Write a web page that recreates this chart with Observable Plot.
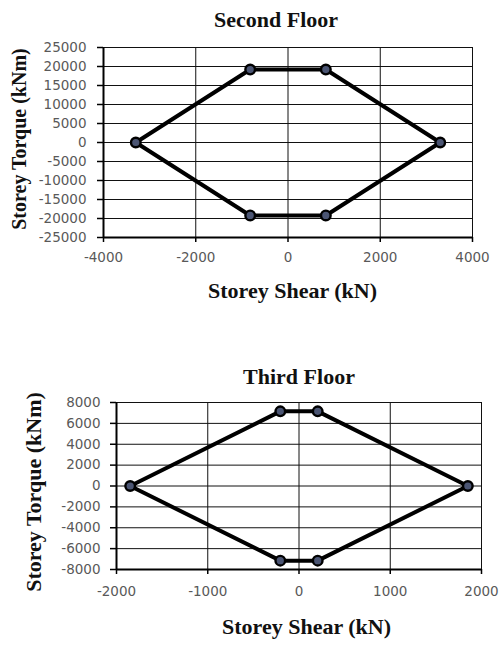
<!DOCTYPE html>
<html>
<head>
<meta charset="utf-8">
<script src="https://cdn.jsdelivr.net/npm/d3@7"></script>
<script src="https://cdn.jsdelivr.net/npm/@observablehq/plot@0.6"></script>
<style>
  html, body { margin: 0; padding: 0; background: #fff; }
  #wrap { position: relative; width: 501px; height: 646px; overflow: hidden; background:#fff; }
  #wrap svg { position: absolute; left: 0; }
  .lbl { position: absolute; font-family: "Liberation Serif", "Times New Roman", serif; font-weight: bold; line-height: 1; white-space: nowrap; color: #111; }
  g[aria-label$="tick label"] { fill: #595959; font-family: "DejaVu Sans", sans-serif; font-size: 13.5px; }
</style>
</head>
<body>
<div id="wrap"></div>
<script>
// ---- data ----
const secondShear  = [-3300, -820, 820, 3300, 820, -820];
const secondTorque = [0, 19200, 19200, 0, -19200, -19200];
const thirdShear   = [-1850, -205, 205, 1850, 205, -205];
const thirdTorque  = [0, 7150, 7150, 0, -7150, -7150];

const secondXTicks = [-4000, -2000, 0, 2000, 4000];
const secondYTicks = [-25000, -20000, -15000, -10000, -5000, 0, 5000, 10000, 15000, 20000, 25000];
const thirdXTicks  = [-2000, -1000, 0, 1000, 2000];
const thirdYTicks  = [-8000, -6000, -4000, -2000, 0, 2000, 4000, 6000, 8000];

const titles = ["Second Floor", "Third Floor"];
const xLabel = "Storey Shear (kN)";
const yLabel = "Storey Torque (kNm)";

const wrap = document.getElementById("wrap");

function makeChart(xs, ys, xTicks, yTicks, opts) {
  const pts = xs.map((x, i) => ({x, y: ys[i]}));
  const closed = pts.concat([pts[0]]);
  const xDom = [xTicks[0], xTicks[xTicks.length - 1]];
  const yDom = [yTicks[0], yTicks[yTicks.length - 1]];
  const fmt = d => String(d);
  const svg = Plot.plot({
    width: 501,
    height: opts.height,
    marginLeft: opts.ml, marginRight: opts.mr, marginTop: opts.mt, marginBottom: opts.mb,
    x: {domain: xDom, ticks: xTicks},
    y: {domain: yDom, ticks: yTicks},
    style: {background: "white", overflow: "visible"},
    marks: [
      Plot.gridX(xTicks, {stroke: "#111", strokeOpacity: 1, strokeWidth: 1}),
      Plot.gridY(yTicks, {stroke: "#111", strokeOpacity: 1, strokeWidth: 1}),
      Plot.ruleX([xDom[0]], {stroke: "black", strokeWidth: 2}),
      Plot.ruleY([yDom[0]], {stroke: "black", strokeWidth: 2}),
      Plot.axisX(xTicks, {tickSize: 5, tickPadding: opts.xpad, tickFormat: fmt, stroke: "black", strokeWidth: 1.5, fill: "#595959", label: null}),
      Plot.axisY(yTicks, {tickSize: 6, tickPadding: opts.ypad, tickFormat: fmt, stroke: "black", strokeWidth: 1.5, fill: "#595959", label: null}),
      Plot.line(closed, {x: "x", y: "y", stroke: "black", strokeWidth: 4, strokeLinejoin: "round"}),
      Plot.dot(pts, {x: "x", y: "y", r: 4.8, fill: "#4b5573", stroke: "black", strokeWidth: 2.4})
    ]
  });
  svg.style.top = opts.top + "px";
  wrap.appendChild(svg);
}

makeChart(secondShear, secondTorque, secondXTicks, secondYTicks,
  {top: 0, height: 310, ml: 103, mr: 29, mt: 47, mb: 73, xpad: 10, ypad: 11});
makeChart(thirdShear, thirdTorque, thirdXTicks, thirdYTicks,
  {top: 350, height: 296, ml: 116, mr: 20, mt: 52, mb: 77, xpad: 12, ypad: 10});

function label(text, cx, cy, size, rotate) {
  const d = document.createElement("div");
  d.className = "lbl";
  d.textContent = text;
  d.style.fontSize = size + "px";
  d.style.left = cx + "px";
  d.style.top = cy + "px";
  d.style.transform = "translate(-50%,-50%)" + (rotate ? " rotate(-90deg)" : "");
  wrap.appendChild(d);
}
// titles and axis labels (center positions)
label(titles[0], 276, 20, 22, false);
label(xLabel, 292.5, 291, 22, false);
label(yLabel, 19, 139, 20, true);
label(titles[1], 299, 376.5, 22, false);
label(xLabel, 306.5, 626.5, 22, false);
label(yLabel, 34, 491.5, 22, true);
</script>
</body>
</html>
